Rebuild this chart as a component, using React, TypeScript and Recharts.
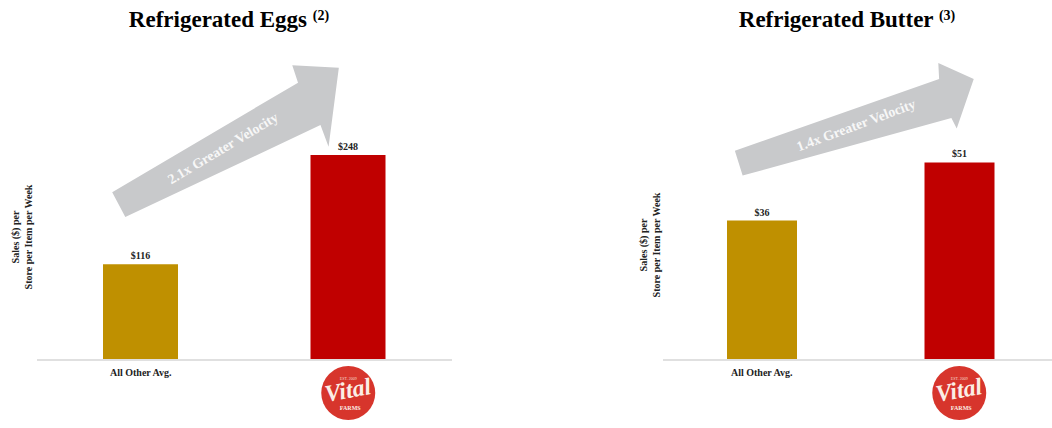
import React from "react"
import { BarChart, Bar, XAxis, YAxis, Cell, LabelList, ReferenceLine, Label } from "recharts"

const categories = ["All Other Avg.", "Vital Farms"]
const eggSales = [116, 248]
const butterSales = [36, 51]
const barColors = ["#BF9000", "#C00000"]

const eggData = categories.map((name, i) => ({ name, value: eggSales[i] }))
const butterData = categories.map((name, i) => ({ name, value: butterSales[i] }))

const SERIF = "'Liberation Serif', 'Times New Roman', serif"
const ARROW_GRAY = "#c8c9cb"

type ArrowOpts = {
  dx1: number
  dx2: number
  w0: number
  w1: number
  headTop: [number, number]
  tip: [number, number]
  headBottom: [number, number]
  text: string
  textPos: number
  textTilt: number
  fontSize: number
}

function makeArrow(o: ArrowOpts) {
  return (props: any) => {
    const ax = props.x1 + o.dx1
    const ay = props.y1
    const bx = props.x2 + o.dx2
    const by = props.y2
    const L = Math.hypot(bx - ax, by - ay)
    const ux = (bx - ax) / L
    const uy = (by - ay) / L
    const vx = -uy
    const vy = ux
    const p = (a: number, c: number) => [ax + ux * a + vx * c, ay + uy * a + vy * c]
    const pts = [
      p(0, -o.w0),
      p(L, -o.w1),
      p(L + o.headTop[0], o.headTop[1]),
      p(L + o.tip[0], o.tip[1]),
      p(L + o.headBottom[0], o.headBottom[1]),
      p(L, o.w1),
      p(0, o.w0),
    ]
    const [tx, ty] = p(L * o.textPos, -1)
    const angle = (Math.atan2(uy, ux) * 180) / Math.PI + o.textTilt
    return (
      <g>
        <polygon points={pts.map((q) => q.join(",")).join(" ")} fill={ARROW_GRAY} />
        <text
          x={tx}
          y={ty}
          transform={`rotate(${angle} ${tx} ${ty})`}
          textAnchor="middle"
          dominantBaseline="central"
          fill="#f7f7f7"
          fontFamily={SERIF}
          fontWeight="bold"
          fontSize={o.fontSize}
        >
          {o.text}
        </text>
      </g>
    )
  }
}

function CategoryTick(props: any) {
  const { x, y, payload } = props
  if (payload.value === categories[0]) {
    return (
      <text x={x} y={y + 8} textAnchor="middle" fontFamily={SERIF} fontWeight="bold" fontSize={10} fill="#222">
        {payload.value}
      </text>
    )
  }
  const cy = y + 25
  return (
    <g>
      <circle cx={x} cy={cy} r={27} fill="#d7352c" />
      <text x={x} y={cy - 13} textAnchor="middle" fontFamily={SERIF} fontSize={4} fill="#f6ddd2">
        EST. 2009
      </text>
      <text
        x={x}
        y={cy + 5}
        textAnchor="middle"
        fontFamily={SERIF}
        fontStyle="italic"
        fontWeight="bold"
        fontSize={24}
        fill="#fbeee6"
        transform={`rotate(-10 ${x} ${cy})`}
      >
        Vital
      </text>
      <text x={x + 2} y={cy + 17} textAnchor="middle" fontFamily={SERIF} fontWeight="bold" fontSize={6} fill="#fbeee6">
        FARMS
      </text>
    </g>
  )
}

function yLabel(offX1: number, offX2: number, cy: number) {
  return (props: any) => {
    const vb = props.viewBox
    const x1 = vb.x + offX1
    const x2 = vb.x + offX2
    const common = {
      textAnchor: "middle" as const,
      fontFamily: SERIF,
      fontWeight: "bold",
      fontSize: 10,
      fill: "#222",
    }
    return (
      <g>
        <text x={x1} y={cy} transform={`rotate(-90 ${x1} ${cy})`} dominantBaseline="central" {...common}>
          Sales ($) per
        </text>
        <text x={x2} y={cy} transform={`rotate(-90 ${x2} ${cy})`} dominantBaseline="central" {...common}>
          Store per Item per Week
        </text>
      </g>
    )
  }
}

function Panel({
  data,
  width,
  top,
  yWidth,
  yMax,
  barSize,
  arrowFrom,
  arrowTo,
  arrow,
  labelCy,
  labelX,
}: {
  data: { name: string; value: number }[]
  width: number
  top: number
  yWidth: number
  yMax: number
  barSize: number
  arrowFrom: number
  arrowTo: number
  arrow: ArrowOpts
  labelCy: number
  labelX: [number, number]
}) {
  return (
    <BarChart width={width} height={428} data={data} margin={{ top, right: 0, bottom: 0, left: 0 }}>
      <XAxis
        dataKey="name"
        axisLine={{ stroke: "#e0e0e0", strokeWidth: 2 }}
        tickLine={false}
        interval={0}
        height={68}
        tick={<CategoryTick />}
      />
      <YAxis width={yWidth} domain={[0, yMax]} tick={false} axisLine={false} tickLine={false}>
        <Label content={yLabel(labelX[0], labelX[1], labelCy)} />
      </YAxis>
      <ReferenceLine
        segment={[
          { x: categories[0], y: arrowFrom },
          { x: categories[1], y: arrowTo },
        ]}
        ifOverflow="visible"
        shape={makeArrow(arrow)}
      />
      <Bar dataKey="value" barSize={barSize} isAnimationActive={false}>
        {data.map((_, i) => (
          <Cell key={i} fill={barColors[i]} />
        ))}
        <LabelList
          dataKey="value"
          position="top"
          offset={5}
          formatter={(v: any) => `$${v}`}
          fontFamily={SERIF}
          fontWeight="bold"
          fontSize={10}
          fill="#222"
        />
      </Bar>
    </BarChart>
  )
}

function Title({ center, text, note }: { center: number; text: string; note: string }) {
  return (
    <div
      style={{
        position: "absolute",
        left: center - 200,
        top: 4,
        width: 400,
        textAlign: "center",
        fontFamily: SERIF,
        fontWeight: "bold",
        fontSize: 23,
        lineHeight: "23px",
        color: "#000",
        whiteSpace: "nowrap",
      }}
    >
      {text} <sup style={{ fontSize: 14, verticalAlign: "7px" }}>{note}</sup>
    </div>
  )
}

export default function App() {
  return (
    <div
      style={{
        position: "absolute",
        left: 0,
        top: 0,
        width: 1052,
        height: 428,
        overflow: "hidden",
        background: "#fff",
      }}
    >
      <Title center={229} text="Refrigerated Eggs" note="(2)" />
      <Title center={847} text="Refrigerated Butter" note="(3)" />
      <div style={{ position: "absolute", left: 0, top: 0 }}>
        <Panel
          data={eggData}
          width={452}
          top={46}
          yWidth={37}
          yMax={380}
          barSize={75}
          arrowFrom={188}
          arrowTo={310}
          labelCy={237}
          labelX={[15, 28]}
          arrow={{
            dx1: -22,
            dx2: -39,
            w0: 14,
            w1: 24,
            headTop: [3, -42],
            tip: [43, -18],
            headBottom: [-3, 47],
            text: "2.1x Greater Velocity",
            textPos: 0.55,
            textTilt: -3,
            fontSize: 14,
          }}
        />
      </div>
      <div style={{ position: "absolute", left: 580, top: 0 }}>
        <Panel
          data={butterData}
          width={478}
          top={50}
          yWidth={83}
          yMax={80}
          barSize={70}
          arrowFrom={50.8}
          arrowTo={67.5}
          labelCy={245}
          labelX={[63, 76]}
          arrow={{
            dx1: -23,
            dx2: -14,
            w0: 13,
            w1: 20.5,
            headTop: [4, -36],
            tip: [33, -10],
            headBottom: [2, 32],
            text: "1.4x Greater Velocity",
            textPos: 0.57,
            textTilt: -3,
            fontSize: 14,
          }}
        />
      </div>
    </div>
  )
}
